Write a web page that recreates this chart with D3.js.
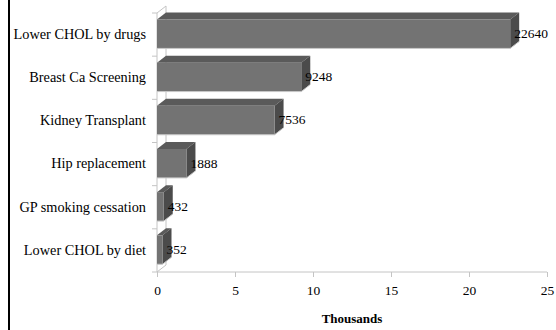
<!DOCTYPE html>
<html>
<head>
<meta charset="utf-8">
<script src="https://cdn.jsdelivr.net/npm/d3@7"></script>
<style>
  html, body { margin: 0; padding: 0; background: #fff; }
  svg { display: block; }
</style>
</head>
<body>
<svg id="chart" width="556" height="330"></svg>
<script>
// Cost per QALY by intervention (values in units; axis in thousands)
const categories = [
  "Lower CHOL by drugs",
  "Breast Ca Screening",
  "Kidney Transplant",
  "Hip replacement",
  "GP smoking cessation",
  "Lower CHOL by diet"
];
const values = [22640, 9248, 7536, 1888, 432, 352];
const xTicks = [0, 5, 10, 15, 20, 25];
const axisTitle = "Thousands";

const FONT = "'Liberation Serif'";
const svg = d3.select("#chart");
const W = 556, H = 330;

// 3D depth offset of the bars and walls
const DX = 9, DY = -7;

const x = d3.scaleLinear().domain([0, 25]).range([157, 547]);
const y = d3.scaleBand().domain(categories).range([13, 272]).paddingInner(0).paddingOuter(0);

// frame line on the left
svg.append("rect").attr("x", 8).attr("y", 0).attr("width", 2).attr("height", H).attr("fill", "#000");

const wallColor = "#c4c4c4";
const x0 = x(0), yTop = y.range()[0], yBot = y.range()[1];
const wall = svg.append("g").attr("fill", "none").attr("stroke", wallColor).attr("stroke-width", 1);
// side wall outline
wall.append("path").attr("d",
  `M${x0},${yBot}L${x0},${yTop}L${x0 + DX},${yTop + DY}L${x0 + DX},${yBot + DY}Z`);
// floor front edge (value axis line)
wall.append("line").attr("x1", x0).attr("x2", x(25)).attr("y1", yBot).attr("y2", yBot);

// category ticks on side wall edge
const catEdges = categories.map(c => y(c)).concat([yBot]);
wall.selectAll("line.ct").data(catEdges).join("line").attr("class", "ct")
  .attr("x1", x0 - 5).attr("x2", x0).attr("y1", d => d).attr("y2", d => d);

// value axis ticks and labels
const xAxis = d3.axisBottom(x).tickValues(xTicks).tickSize(5).tickPadding(8).tickFormat(d3.format("d"));
const gx = svg.append("g").attr("transform", `translate(0,${yBot})`).call(xAxis);
gx.select(".domain").remove();
gx.selectAll(".tick line").attr("stroke", wallColor);
gx.selectAll(".tick text").attr("fill", "#000")
  .style("font-family", FONT).style("font-size", "13.5px");

// category labels
svg.append("g").selectAll("text").data(categories).join("text")
  .attr("x", 146).attr("y", d => y(d) + y.bandwidth() / 2 + 1)
  .attr("text-anchor", "end").attr("dominant-baseline", "middle")
  .style("font-family", FONT).style("font-size", "14.3px").attr("fill", "#000").text(d => d);

// bars (front, top, side faces)
const faceH = y.bandwidth() * 0.67;
const faceOff = 6.5;
const rows = categories.map((c, i) => ({ c, v: values[i] }));
const bars = svg.append("g").selectAll("g").data(rows).join("g");
bars.each(function(d) {
  const g = d3.select(this);
  const xl = x(0), xr = x(d.v / 1000);
  const yt = y(d.c) + faceOff, yb = yt + faceH;
  g.append("path").attr("fill", "#5a5a5a")
    .attr("d", `M${xl},${yt}L${xl + DX},${yt + DY}L${xr + DX},${yt + DY}L${xr},${yt}Z`);
  g.append("path").attr("fill", "#4b4b4b")
    .attr("d", `M${xr},${yt}L${xr + DX},${yt + DY}L${xr + DX},${yb + DY}L${xr},${yb}Z`);
  g.append("rect").attr("x", xl).attr("y", yt).attr("width", xr - xl).attr("height", faceH)
    .attr("fill", "#737373");
  g.append("path").attr("fill", "none").attr("stroke", "#c8c8c8").attr("stroke-width", 1)
    .attr("d", `M${xl},${yb}L${xr},${yb}L${xr + DX},${yb + DY}`);
});

// value labels
svg.append("g").selectAll("text").data(rows).join("text")
  .attr("x", d => x(d.v / 1000) + 4)
  .attr("y", d => y(d.c) + faceOff + faceH / 2 + 1)
  .attr("dominant-baseline", "middle")
  .style("font-family", FONT).style("font-size", "13.5px").attr("fill", "#000").text(d => d.v);

// axis title
svg.append("text").attr("x", (x(0) + x(25)) / 2).attr("y", 323)
  .attr("text-anchor", "middle")
  .style("font-family", FONT).style("font-size", "13px").style("font-weight", "bold")
  .attr("fill", "#000").text(axisTitle);
</script>
</body>
</html>
